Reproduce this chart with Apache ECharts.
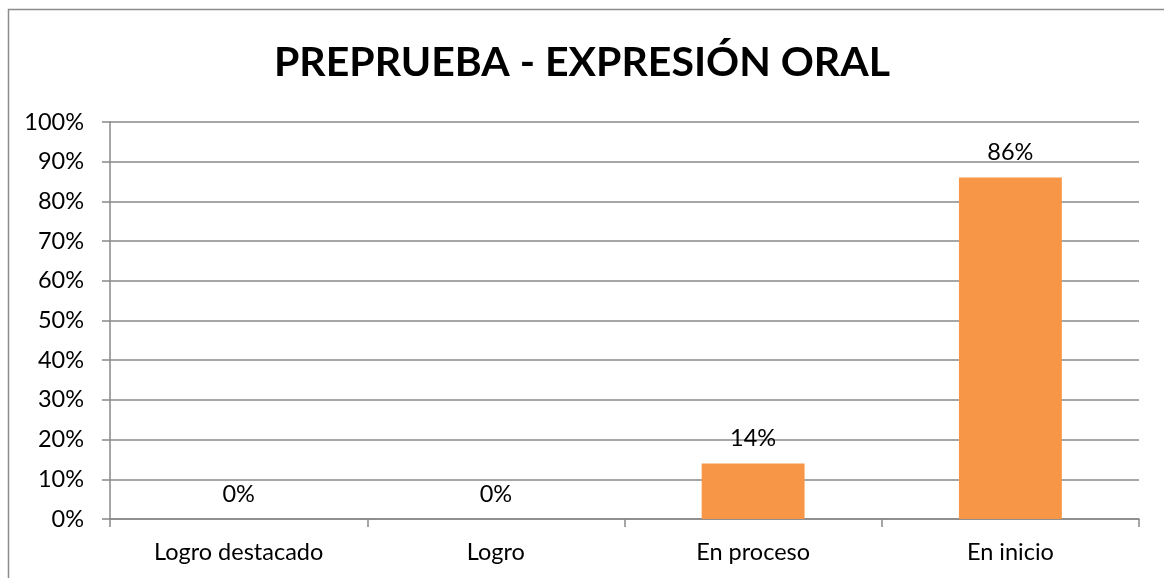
<!DOCTYPE html>
<html>
<head>
<meta charset="utf-8">
<script src="https://cdn.jsdelivr.net/npm/echarts@6/dist/echarts.min.js"></script>
<style>
  html, body { margin: 0; padding: 0; background: #fff; }
  #chart { width: 1164px; height: 578px; }
</style>
</head>
<body>
<div id="chart"></div>
<script>
// datos del gráfico
var categorias = ['Logro destacado', 'Logro', 'En proceso', 'En inicio'];
var porcentajes = [0, 0, 14, 86];
var titulo = 'PREPRUEBA - EXPRESIÓN ORAL';

var myChart = echarts.init(document.getElementById('chart'));
var font = 'Lato, "Open Sans", sans-serif';

var option = {
  backgroundColor: '#fff',
  animation: false,
  title: {
    text: titulo,
    left: 'center',
    top: 37,
    textStyle: { fontFamily: font, fontSize: 41, fontWeight: 'bold', color: '#000' }
  },
  graphic: [{
    type: 'rect',
    shape: { x: 8.5, y: 9.5, width: 1200, height: 600 },
    style: { fill: 'none', stroke: '#8c8c8c', lineWidth: 1.5 },
    silent: true
  }],
  grid: { left: 110, right: 25, top: 122, bottom: 59 },
  xAxis: {
    type: 'category',
    data: categorias,
    axisLine: { lineStyle: { color: '#888', width: 1.5 } },
    axisTick: { show: true, length: 8, lineStyle: { color: '#888', width: 1.5 } },
    axisLabel: { margin: 21, color: '#000', fontFamily: font, fontSize: 23.5 }
  },
  yAxis: {
    type: 'value',
    min: 0,
    max: 100,
    interval: 10,
    axisLine: { show: true, lineStyle: { color: '#888', width: 1.5 } },
    axisTick: { show: true, length: 8, lineStyle: { color: '#888', width: 1.5 } },
    splitLine: { lineStyle: { color: '#888', width: 1.5 } },
    axisLabel: { margin: 26, color: '#000', fontFamily: font, fontSize: 23.5, formatter: '{value}%' }
  },
  series: [{
    type: 'bar',
    data: porcentajes,
    barWidth: '40%',
    itemStyle: { color: '#F79646' },
    label: {
      show: true,
      position: 'top',
      distance: 13,
      color: '#000',
      fontFamily: font,
      fontSize: 23.5,
      formatter: '{c}%'
    }
  }]
};

myChart.setOption(option);
</script>
</body>
</html>
